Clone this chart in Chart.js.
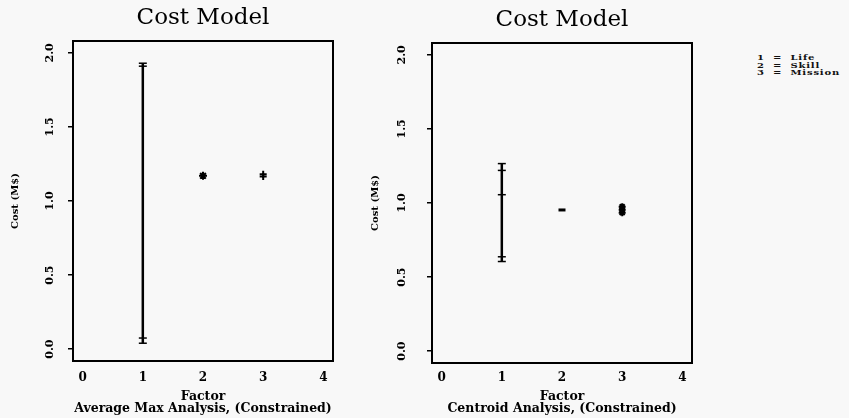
<!DOCTYPE html>
<html>
<head>
<meta charset="utf-8">
<script src="https://cdn.jsdelivr.net/npm/chart.js@4.4.1/dist/chart.umd.min.js"></script>
<style>
  html, body { margin: 0; padding: 0; background: #f8f8f8; }
  #left { position: absolute; left: 0; top: 0; }
  #right { position: absolute; left: 345px; top: 0; }
  .key { position: absolute; left: 757px; top: 54px; font: bold 10px 'DejaVu Serif'; line-height: 9.5px; letter-spacing: 0.8px; word-spacing: 4px; color: #111; white-space: pre; transform: scaleY(0.78); transform-origin: top left; }
</style>
</head>
<body>
<canvas id="left" width="345" height="418"></canvas>
<canvas id="right" width="360" height="418"></canvas>
<div class="key">1 = Life
2 = Skill
3 = Mission</div>
<script>
'use strict';
// =============== data ===============
const factorTicks = [0, 1, 2, 3, 4];
const costTicks = [0, 0.5, 1, 1.5, 2];
const factorNames = ['Life', 'Skill', 'Mission'];

// average max analysis (constrained)
const avgLife = [0.04, 0.075, 1.91, 1.93];
const avgSkill = [1.17];
const avgMission = [1.165, 1.18];

// centroid analysis (constrained)
const cenLife = [0.605, 0.637, 1.056, 1.22, 1.266];
const cenSkill = [0.953];
const cenMission = [0.935, 0.955, 0.975];

// =============== helpers ===============
function pts(x, ys) {
    return ys.map(y => ({x: x, y: y}));
}

const serif = 'DejaVu Serif';

// frame round the plot area
const boxPlugin = {
    id: 'box',
    afterDraw(chart) {
        const {ctx, chartArea: a} = chart;
        ctx.save();
        ctx.strokeStyle = '#000';
        ctx.lineWidth = 2;
        ctx.strokeRect(a.left, a.top, a.right - a.left, a.bottom - a.top);
        ctx.restore();
    }
};

// title centred over the plot area, not the canvas
const areaTitle = {
    id: 'areaTitle',
    afterDraw(chart, args, opts) {
        const {ctx, chartArea: a} = chart;
        ctx.save();
        ctx.font = 'normal 23px ' + serif;
        ctx.fillStyle = '#000';
        ctx.textAlign = 'center';
        ctx.textBaseline = 'middle';
        ctx.fillText(opts.text, (a.left + a.right) / 2, opts.y);
        ctx.restore();
    }
};

function costChart(id, o) {
    return new Chart(document.getElementById(id), {
        type: 'scatter',
        data: {
            datasets: [{
                label: factorNames[0],
                data: pts(1, o.life),
                showLine: true,
                borderColor: '#000',
                borderWidth: 2.5,
                pointStyle: 'line',
                pointRadius: 4,
                pointBorderWidth: 1.5,
                pointBorderColor: '#000'
            }, {
                label: factorNames[1],
                data: pts(2, o.skill),
                pointStyle: o.skillStyle,
                pointRadius: o.skillRadius,
                pointBorderWidth: o.skillWidth,
                pointBorderColor: '#000',
                pointBackgroundColor: '#000'
            }, {
                label: factorNames[2],
                data: pts(3, o.mission),
                pointStyle: o.missionStyle,
                pointRadius: 3.5,
                pointBorderWidth: 2,
                pointBorderColor: '#000',
                pointBackgroundColor: '#000'
            }]
        },
        options: {
            responsive: false,
            animation: false,
            layout: { padding: { left: 0, right: o.padRight, top: o.top, bottom: 0 } },
            plugins: {
                legend: { display: false },
                tooltip: { enabled: false },
                areaTitle: { text: 'Cost Model', y: o.titleY }
            },
            scales: {
                x: {
                    type: 'linear',
                    min: -0.16,
                    max: 4.16,
                    afterBuildTicks: s => { s.ticks = factorTicks.map(v => ({value: v})); },
                    afterFit: s => { s.height = o.xHeight; },
                    grid: { display: false, drawTicks: false },
                    border: { display: false },
                    ticks: {
                        color: '#000',
                        font: { family: serif, size: 12, weight: 'bold' },
                        padding: o.xTickPad,
                        maxRotation: 0
                    },
                    title: {
                        display: true,
                        text: ['Factor', o.subtitle],
                        color: '#000',
                        font: { family: serif, size: 12.5, weight: 'bold', lineHeight: 0.9 },
                        padding: { top: 0, bottom: 4 }
                    }
                },
                y: {
                    type: 'linear',
                    min: -0.08,
                    max: 2.08,
                    afterBuildTicks: s => { s.ticks = costTicks.map(v => ({value: v})); },
                    afterFit: s => { s.width = o.yWidth; },
                    grid: { drawOnChartArea: false, drawTicks: true, tickLength: 5, color: '#000', lineWidth: 1.5 },
                    border: { display: false },
                    ticks: {
                        color: '#000',
                        font: { family: serif, size: 11, weight: 'bold' },
                        minRotation: 90,
                        maxRotation: 90,
                        crossAlign: 'center',
                        padding: o.yTickPad,
                        callback: v => v.toFixed(1)
                    },
                    title: {
                        display: true,
                        text: 'Cost (M$)',
                        color: '#000',
                        font: { family: serif, size: 10, weight: 'bold' },
                        padding: { top: o.yTitlePad, bottom: 0 }
                    }
                }
            }
        },
        plugins: [boxPlugin, areaTitle]
    });
}

// =============== charts ===============
costChart('left', {
    life: avgLife, skill: avgSkill, mission: avgMission,
    skillStyle: 'star', skillRadius: 4, skillWidth: 2,
    missionStyle: 'cross',
    subtitle: 'Average Max Analysis, (Constrained)',
    padRight: 12, top: 41, titleY: 18,
    xHeight: 57, xTickPad: 9.8, yWidth: 73, yTickPad: 8, yTitlePad: 9
});

costChart('right', {
    life: cenLife, skill: cenSkill, mission: cenMission,
    skillStyle: 'line', skillRadius: 3.5, skillWidth: 3,
    missionStyle: 'star',
    subtitle: 'Centroid Analysis, (Constrained)',
    padRight: 13, top: 43, titleY: 20,
    xHeight: 55, xTickPad: 7.8, yWidth: 87, yTickPad: 15, yTitlePad: 24
});
</script>
</body>
</html>
